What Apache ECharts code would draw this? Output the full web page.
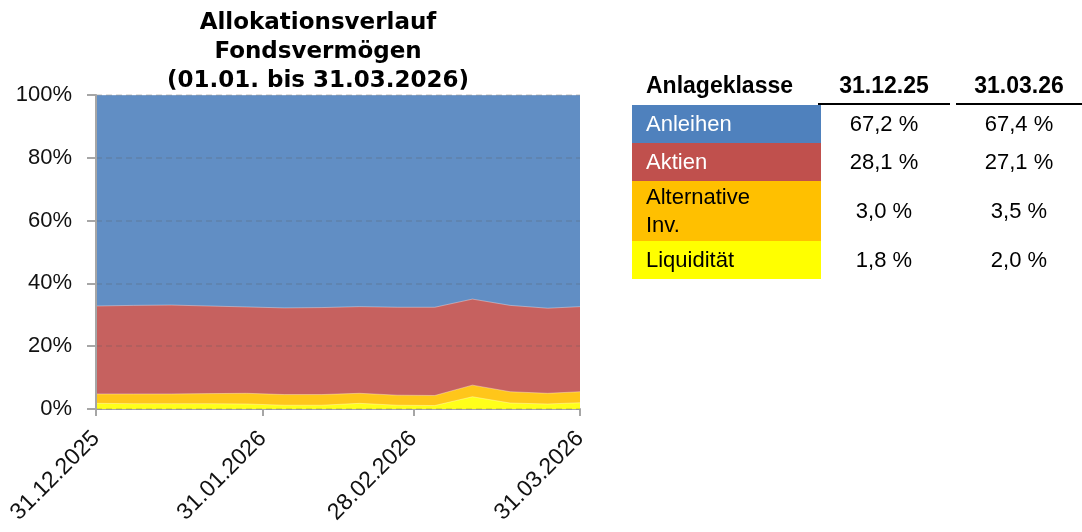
<!DOCTYPE html>
<html><head><meta charset="utf-8">
<script src="https://cdn.jsdelivr.net/npm/echarts@6/dist/echarts.min.js"></script>
<style>html,body{margin:0;padding:0;background:#fff}#c{width:1082px;height:532px}</style>
</head><body><div id="c"></div>
<script>
// ---- data ----
const dates = ['31.12.2025','07.01.2026','14.01.2026','21.01.2026','28.01.2026','04.02.2026','11.02.2026','18.02.2026','25.02.2026','04.03.2026','11.03.2026','18.03.2026','25.03.2026','31.03.2026'];
const liquiditaet = [1.8,1.7,1.7,1.7,1.6,1.2,1.2,1.8,1.2,1.1,3.9,1.9,1.6,2.0];
const alternative = [3.0,3.1,3.1,3.2,3.4,3.4,3.4,3.2,3.2,3.2,3.7,3.6,3.4,3.5];
const aktien      = [28.0,28.2,28.3,27.9,27.5,27.6,27.7,27.6,28.0,28.1,27.4,27.5,27.1,27.1];
const anleihen    = [67.2,67.0,66.9,67.2,67.5,67.8,67.7,67.4,67.6,67.6,65.0,67.0,67.9,67.4];
const tickDates = ['31.12.2025','31.01.2026','28.02.2026','31.03.2026'];
const yTicks = [0,20,40,60,80,100];

const tableHeader = ['Anlageklasse','31.12.25','31.03.26'];
const tableClasses = ['Anleihen','Aktien','Alternative\nInv.','Liquidität'];
const col1 = ['67,2 %','28,1 %','3,0 %','1,8 %'];
const col2 = ['67,4 %','27,1 %','3,5 %','2,0 %'];

// ---- helpers ----
function toUTC(s){const p=s.split('.');return Date.UTC(+p[2],+p[1]-1,+p[0]);}
const t0 = toUTC(dates[0]);
function dayOf(s){return Math.round((toUTC(s)-t0)/86400000);}
const xs = dates.map(dayOf);
const tickDays = tickDates.map(dayOf);
const dayToLabel = {}; tickDates.forEach(d=>{dayToLabel[dayOf(d)]=d;});

// area colours (table colours at 90% over white)
const colors = ['#FFFF1A','#FFC61A','#C6615F','#618EC4'];
const names = ['Liquidität','Alternative Inv.','Aktien','Anleihen'];
const vals = [liquiditaet, alternative, aktien, anleihen];

// cumulative stacking (bottom to top)
const cum = [];
vals.forEach((arr,i)=>{cum.push(arr.map((v,j)=>v + (i>0?cum[i-1][j]:0)));});

const series = vals.map((arr,i)=>({
  name: names[i], type:'line', symbol:'none',
  data: cum[i].map((v,j)=>[xs[j], Math.min(v,100)]),
  lineStyle:{width:1,color:'rgba(255,255,255,0.35)'},
  areaStyle:{color:colors[i],opacity:1},
  itemStyle:{color:colors[i]}, z:2+(vals.length-i)
}));

// table graphics
const g = [];
const FONT = 'Liberation Sans';
const rowTops = [105,143,181,241];
const rowH = [38,38,60,38];
const cellX = 632, cellW = 189;
const c1x = 884, c2x = 1019;
function txt(t,x,y,font,fill,align){return {type:'text', style:{text:t, x:x, y:y, font:font, fill:fill, lineHeight:28, textAlign:align, textVerticalAlign:'middle', verticalAlign:'middle'}};}
g.push(txt(tableHeader[0],646,87,'bold 23px "'+FONT+'"','#000','left'));
g.push(txt(tableHeader[1],c1x,87,'bold 23px "'+FONT+'"','#000','center'));
g.push(txt(tableHeader[2],c2x,87,'bold 23px "'+FONT+'"','#000','center'));
g.push({type:'line', shape:{x1:818,y1:104,x2:950,y2:104}, style:{stroke:'#000', lineWidth:2}});
g.push({type:'line', shape:{x1:956,y1:104,x2:1082,y2:104}, style:{stroke:'#000', lineWidth:2}});
const tcolors = ['#4F81BD','#C0504D','#FFC000','#FFFF00'];
const tfill = ['#fff','#fff','#000','#000'];
tableClasses.forEach((c,i)=>{
  const cy = rowTops[i] + rowH[i]/2;
  g.push({type:'rect', shape:{x:cellX,y:rowTops[i],width:cellW,height:rowH[i]}, style:{fill:tcolors[i]}});
  g.push(txt(c,646,cy+1,'22px "'+FONT+'"',tfill[i],'left'));
  g.push(txt(col1[i],c1x,cy+1,'22px "'+FONT+'"','#000','center'));
  g.push(txt(col2[i],c2x,cy+1,'22px "'+FONT+'"','#000','center'));
});

const option = {
  animation:false,
  backgroundColor:'#fff',
  title:{text:'Allokationsverlauf\nFondsvermögen\n(01.01. bis 31.03.2026)', left:313, top:4, textAlign:'center',
    textStyle:{fontFamily:'DejaVu Sans', fontWeight:'bold', fontSize:23, lineHeight:29, color:'#000'}},
  grid:{left:96, right:502, top:95, bottom:123, containLabel:false},
  xAxis:{type:'value', min:xs[0], max:xs[xs.length-1],
    axisLine:{lineStyle:{color:'#a6a6a6', width:2}},
    axisTick:{show:true, length:7, customValues:tickDays, lineStyle:{color:'#a6a6a6', width:2}},
    axisLabel:{customValues:tickDays, rotate:45, margin:26, fontFamily:FONT, fontSize:23, color:'#111',
      formatter:(v)=>dayToLabel[v]||''},
    splitLine:{show:false}},
  yAxis:{type:'value', min:yTicks[0], max:yTicks[yTicks.length-1], interval:20, z:10,
    axisLine:{show:true, lineStyle:{color:'#a6a6a6', width:2}},
    axisTick:{show:true, length:9, lineStyle:{color:'#a6a6a6', width:2}},
    axisLabel:{formatter:'{value}%', margin:24, fontFamily:FONT, fontSize:22, color:'#111'},
    splitLine:{show:true, lineStyle:{type:[6,4], color:'rgba(90,90,90,0.25)', width:1.5}}},
  series: series,
  graphic: g
};
const chart = echarts.init(document.getElementById('c'), null, {renderer:'canvas'});
chart.setOption(option);
</script></body></html>
